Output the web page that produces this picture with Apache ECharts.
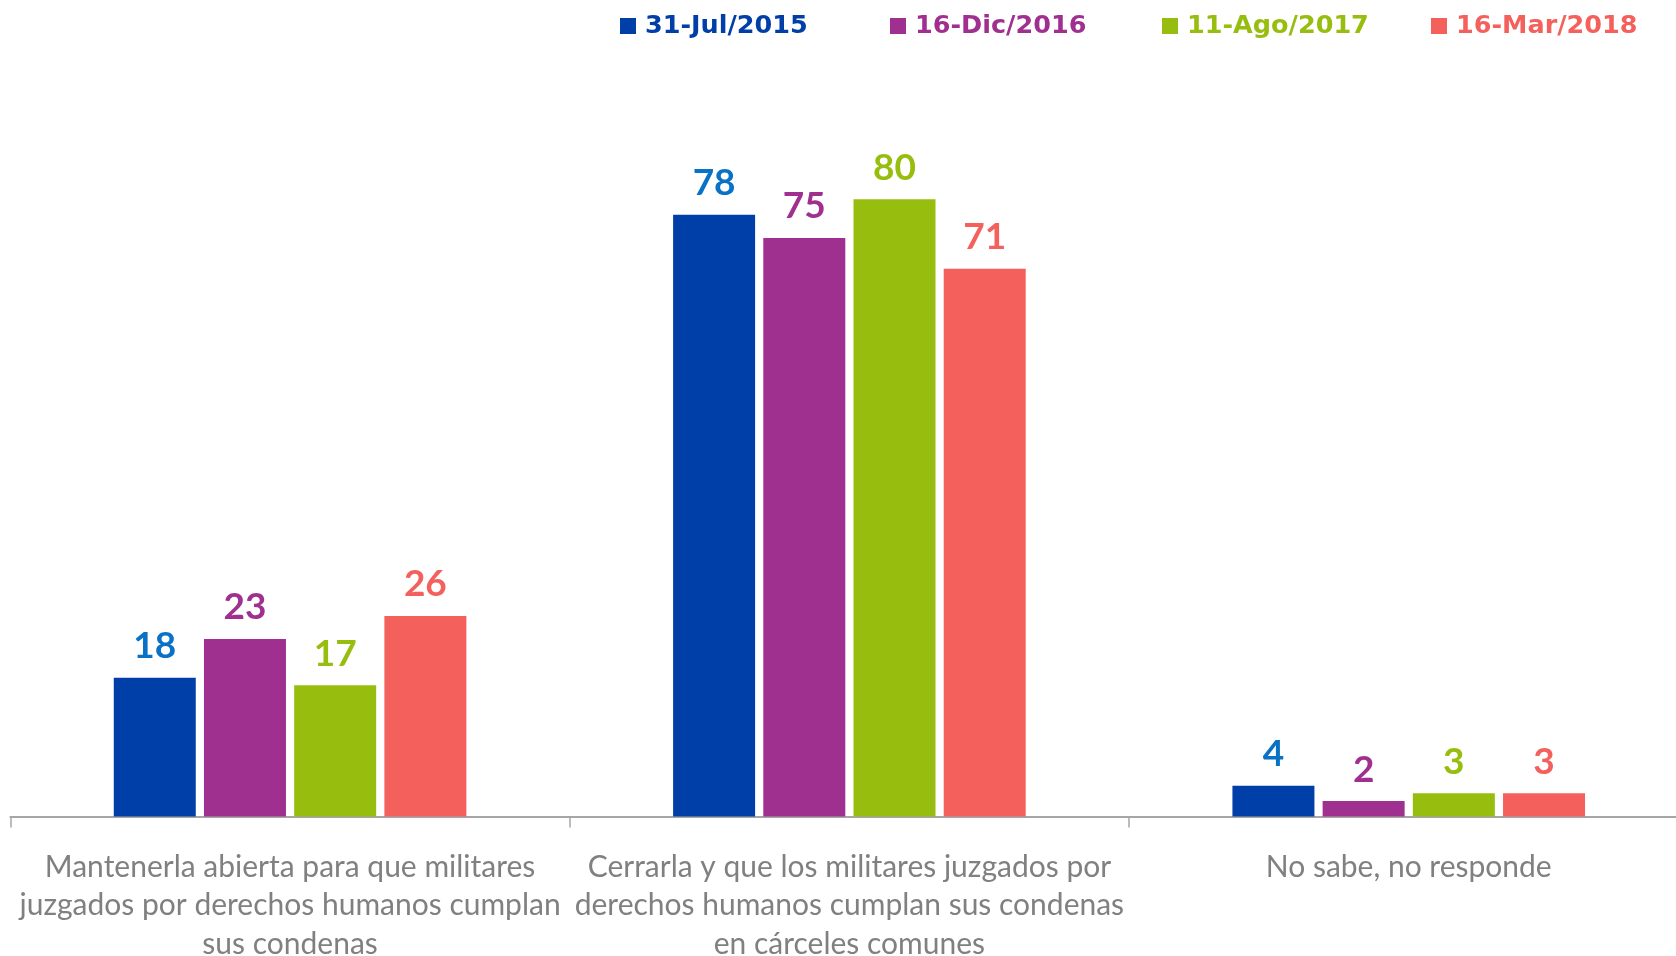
<!DOCTYPE html>
<html>
<head>
<meta charset="utf-8">
<script src="https://cdn.jsdelivr.net/npm/echarts@6/dist/echarts.min.js"></script>
<style>
    html,body{
        margin: 0;
        padding: 0;
        background: #fff;
    }
    #chart{
        width: 1676px;
        height: 956px;
    }
</style>
</head>
<body>
<div id="chart"></div>
<script>
// categories (line breaks as in the original)
const categories = [
    'Mantenerla abierta para que militares\njuzgados por derechos humanos cumplan\nsus condenas',
    'Cerrarla y que los militares juzgados por\nderechos humanos cumplan sus condenas\nen cárceles comunes',
    'No sabe, no responde'
]
const seriesNames = ['31-Jul/2015', '16-Dic/2016', '11-Ago/2017', '16-Mar/2018']
const jul2015 = [18, 78, 4]
const dic2016 = [23, 75, 2]
const ago2017 = [17, 80, 3]
const mar2018 = [26, 71, 3]

const barColors = ['#003fa8', '#a0308f', '#97be0e', '#f4615c']
const labelColors = ['#0a72c6', '#a0308f', '#97be0e', '#f4615c']
const legendLeft = [615, 885, 1157, 1426]

const valueLists = [jul2015, dic2016, ago2017, mar2018]

let seriesArr = [], legendArr = []
seriesNames.forEach((name, i) => {
    seriesArr.push({
        name: name,
        type: 'bar',
        data: valueLists[i],
        barWidth: 82,
        barGap: '10%',
        itemStyle: {
            color: barColors[i]
        },
        label: {
            show: true,
            position: 'top',
            distance: 13,
            color: labelColors[i],
            fontFamily: 'Lato',
            fontWeight: 'bold',
            fontSize: 37
        }
    })
    // one legend per item so the spacing matches the original
    legendArr.push({
        left: legendLeft[i],
        top: 8,
        itemWidth: 16,
        itemHeight: 16,
        icon: 'rect',
        data: [name],
        textStyle: {
            color: barColors[i],
            fontFamily: 'DejaVu Sans',
            fontWeight: 'bold',
            fontSize: 25.5,
            padding: [0, 0, 0, 4]
        }
    })
})

const myChart = echarts.init(document.getElementById('chart'))
const option = {
    animation: false,
    grid: {
        left: 10.4,
        right: -12.4,
        top: 45,
        bottom: 139.5,
        containLabel: false,
        outerBoundsMode: 'none'
    },
    legend: legendArr,
    xAxis: {
        type: 'category',
        data: categories,
        axisLine: {
            lineStyle: {
                color: '#a6a6a6',
                width: 2
            }
        },
        axisTick: {
            show: true,
            length: 11,
            lineStyle: {
                color: '#a6a6a6',
                width: 1.5
            }
        },
        axisLabel: {
            interval: 0,
            margin: 31.5,
            color: '#808080',
            fontFamily: 'Lato',
            fontSize: 30,
            lineHeight: 38.5
        }
    },
    yAxis: {
        type: 'value',
        min: 0,
        max: 100,
        show: false,
        splitLine: { show: false }
    },
    series: seriesArr
}
myChart.setOption(option)
</script>
</body>
</html>
